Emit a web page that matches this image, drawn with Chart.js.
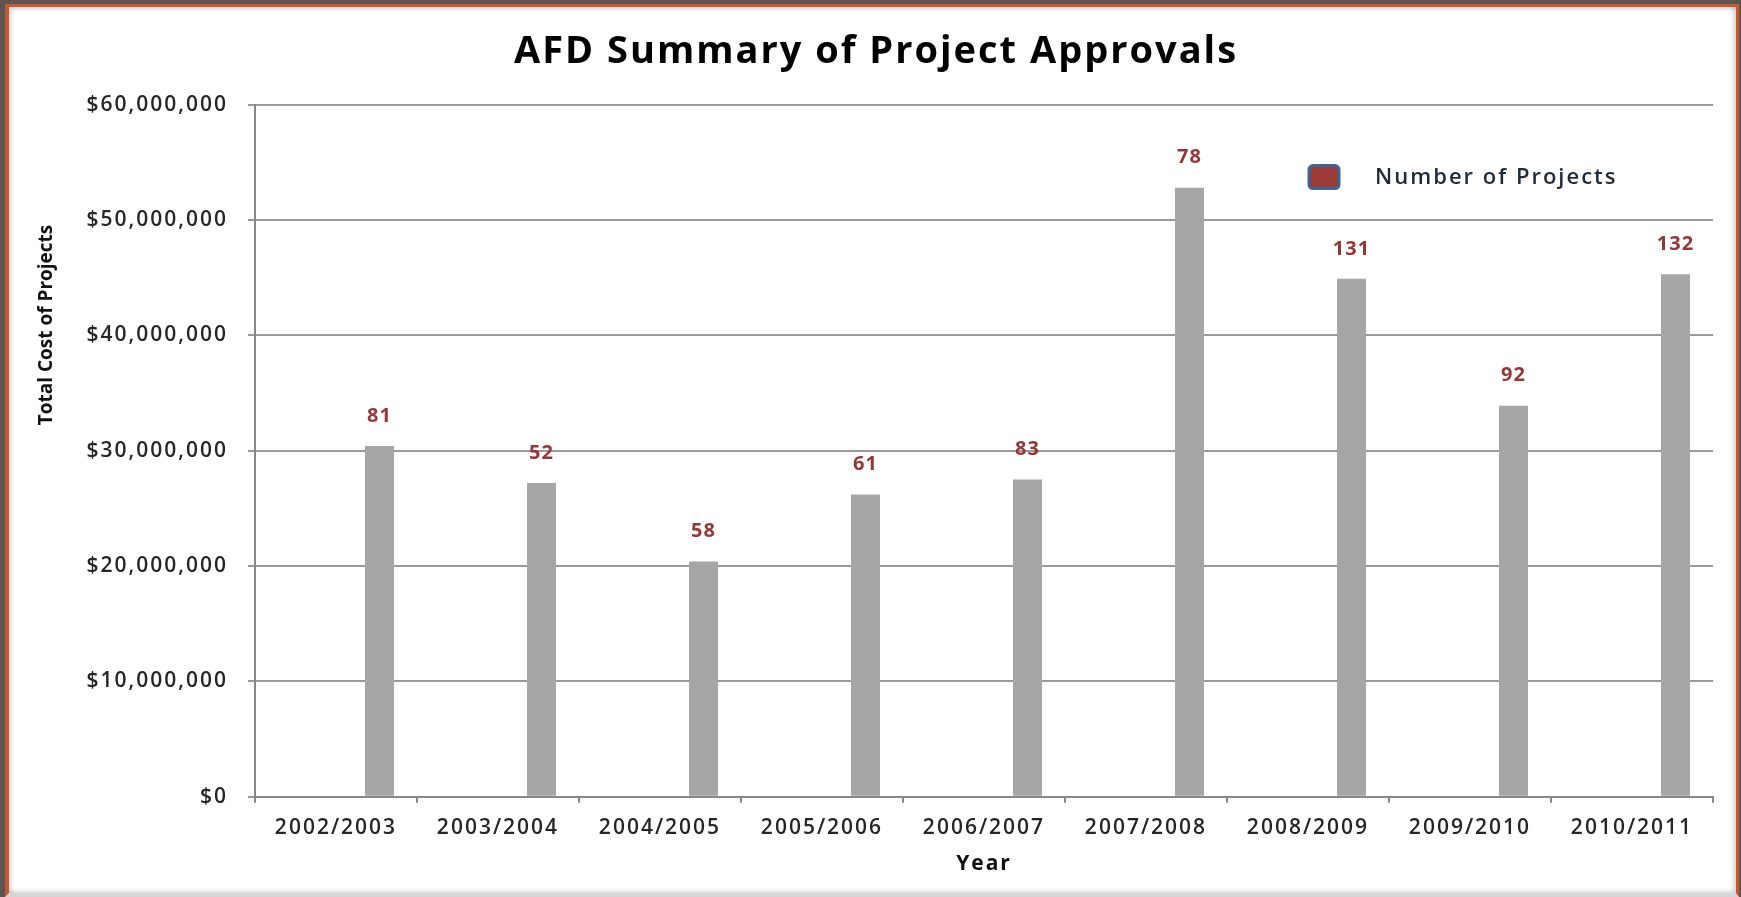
<!DOCTYPE html>
<html>
<head>
<meta charset="utf-8">
<title>AFD Summary of Project Approvals</title>
<script src="https://cdn.jsdelivr.net/npm/chart.js@4.4.1/dist/chart.umd.min.js"></script>
<style>
  html, body { margin: 0; padding: 0; width: 1741px; height: 897px; overflow: hidden; background: #5e5553; }
  #frame {
    position: absolute; left: 5px; top: 4px; width: 1734px; height: 893px; box-sizing: border-box;
    background: #fff;
    border-left: 4px solid #c9582c; border-top: 3px solid #c9582c; border-right: 3px solid #c9582c;
    border-bottom: 4px solid #d6d6d6;
    box-shadow: inset 2px 2px 4px rgba(0,0,0,0.18), inset -3px -2px 4px rgba(0,0,0,0.15);
  }
  #wrap { position: relative; width: 1727px; height: 886px; }
</style>
</head>
<body>
<div id="frame"><div id="wrap"><canvas id="bar-chart"></canvas></div></div>
<script>
const years = ["2002/2003", "2003/2004", "2004/2005", "2005/2006", "2006/2007",
  "2007/2008", "2008/2009", "2009/2010", "2010/2011"];
const totalCost = [30400000, 27200000, 20400000, 26200000, 27500000,
  52800000, 44900000, 33900000, 45300000];
const projectCounts = [81, 52, 58, 61, 83, 78, 131, 92, 132];
const costTicks = [0, 10000000, 20000000, 30000000, 40000000, 50000000, 60000000];

const textColor = "#262626";
const axisGrey = "#888888";

// the original text is set quite wide, so open the letters up a little
const wideText = {
  id: "wideText",
  beforeLayout(chart) { chart.ctx.letterSpacing = "2px"; },
  beforeDraw(chart) { chart.ctx.letterSpacing = "2px"; },
};

// project counts written above the cost bars
const countLabels = {
  id: "countLabels",
  afterDatasetsDraw(chart) {
    const ctx = chart.ctx;
    const bars = chart.getDatasetMeta(1).data;
    ctx.save();
    ctx.letterSpacing = "1px";
    ctx.font = "bold 20px 'Open Sans'";
    ctx.fillStyle = "#953735";
    ctx.textAlign = "center";
    ctx.textBaseline = "middle";
    bars.forEach((bar, i) => {
      ctx.fillText(String(projectCounts[i]), bar.x, bar.y - 30);
    });
    ctx.restore();
  },
};

// legend box sits inside the plot, and the y title is off-centre like the original
const extras = {
  id: "extras",
  afterDraw(chart) {
    const ctx = chart.ctx;
    const area = chart.chartArea;
    const ds = chart.data.datasets[0];
    ctx.save();
    const bx = area.right - 404, by = area.top + 61;
    ctx.beginPath();
    ctx.roundRect(bx, by, 30, 23, 4);
    ctx.fillStyle = "#9c3a38";
    ctx.fill();
    ctx.lineWidth = 3;
    ctx.strokeStyle = "#3f6596";
    ctx.stroke();
    ctx.letterSpacing = "2px";
    ctx.font = "600 22px 'Open Sans'";
    ctx.fillStyle = "#1f2a3a";
    ctx.textBaseline = "middle";
    ctx.fillText(ds.label, area.right - 338, by + 12);

    ctx.letterSpacing = "0px";
    ctx.translate(38, 318);
    ctx.rotate(-Math.PI / 2);
    ctx.font = "bold 19px 'Open Sans'";
    ctx.fillStyle = "#111";
    ctx.textAlign = "center";
    ctx.fillText("Total Cost of Projects", 0, 0);
    ctx.restore();
  },
};

new Chart(document.getElementById("bar-chart"), {
  type: "bar",
  data: {
    labels: years,
    datasets: [
      {
        label: "Number of Projects",
        data: projectCounts,
        yAxisID: "yCount",
        backgroundColor: "rgba(0,0,0,0)",
        borderWidth: 0,
        categoryPercentage: 1.074,
        barPercentage: 0.333,
      },
      {
        label: "Total Cost of Projects",
        data: totalCost,
        yAxisID: "y",
        backgroundColor: "#a6a6a6",
        borderWidth: 0,
        categoryPercentage: 1.074,
        barPercentage: 0.333,
      },
    ],
  },
  options: {
    responsive: true,
    maintainAspectRatio: false,
    animation: false,
    layout: { padding: { left: 30, right: 23, top: 0, bottom: 18 } },
    plugins: {
      legend: { display: false },
      tooltip: { enabled: false },
      title: {
        display: true,
        text: "AFD Summary of Project Approvals",
        color: "#000",
        font: { family: "'Open Sans'", size: 38, weight: "bold" },
        padding: { top: 22, bottom: 30 },
      },
    },
    scales: {
      x: {
        grid: { display: true, drawOnChartArea: false, offset: true, tickLength: 6, color: axisGrey, lineWidth: 2 },
        border: { color: axisGrey, width: 2 },
        ticks: { color: textColor, font: { family: "'Open Sans'", size: 21, weight: "600" }, padding: 13, maxRotation: 0 },
        title: {
          display: true,
          text: "Year",
          color: "#111",
          font: { family: "'Open Sans'", size: 21, weight: "bold", lineHeight: 1 },
          padding: { top: 0, bottom: 0 },
        },
      },
      y: {
        min: 0,
        max: 60000000,
        afterBuildTicks: (axis) => { axis.ticks = costTicks.map((v) => ({ value: v })); },
        afterFit: (scale) => { scale.width = 216; },
        grid: { color: "#9a9a9a", lineWidth: 2, tickLength: 7 },
        border: { color: axisGrey, width: 2 },
        ticks: {
          color: textColor,
          font: { family: "'Open Sans'", size: 21, weight: "600" },
          padding: 20,
          callback: (v) => "$" + Number(v).toLocaleString("en-US"),
        },
      },
      yCount: { display: false, min: 0, max: 150 },
    },
  },
  plugins: [wideText, countLabels, extras],
});
</script>
</body>
</html>
